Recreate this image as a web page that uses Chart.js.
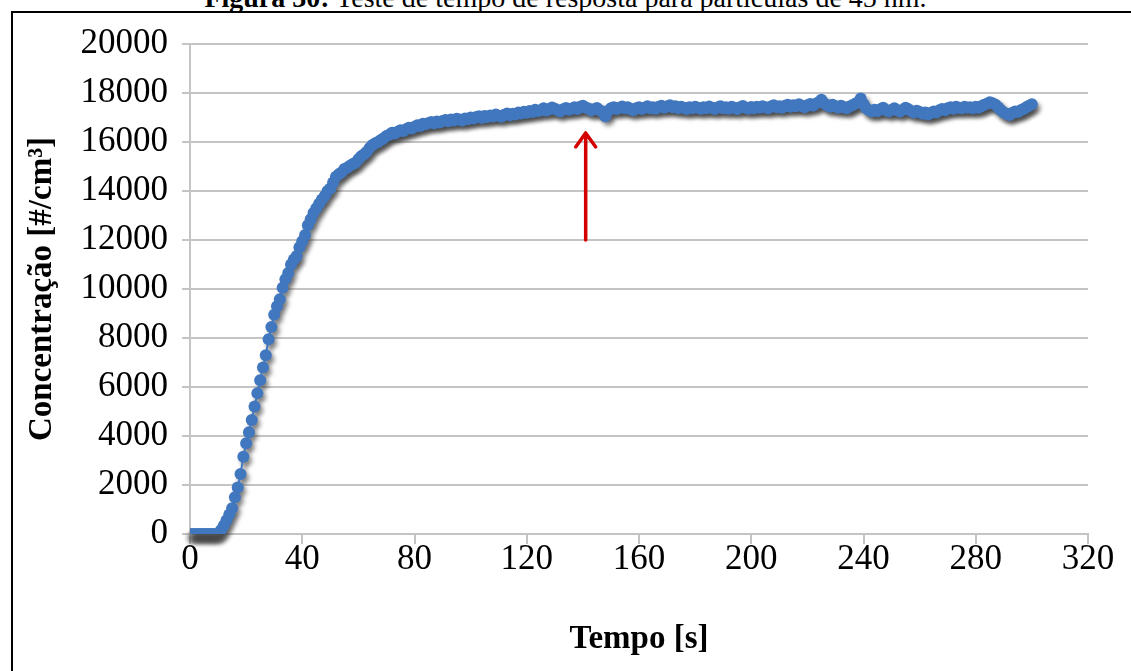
<!DOCTYPE html>
<html>
<head>
<meta charset="utf-8">
<script src="https://cdn.jsdelivr.net/npm/chart.js@4/dist/chart.umd.min.js"></script>
<style>
  html, body { margin: 0; padding: 0; background: #fff; overflow: hidden; }
  #frame { position: absolute; left: 11px; top: 11px; width: 1200px; height: 800px; border: 2px solid #000; }
  #caption { position: absolute; left: 0; top: -16px; width: 1131px; text-align: center;
             font: 28px 'Liberation Serif', serif; line-height: 28px; color: #000; }
  #wrap { position: absolute; left: 0; top: 0; width: 1131px; height: 671px; }
</style>
</head>
<body>
<div id="frame"></div>
<div id="caption"><b>Figura 30:</b> Teste de tempo de resposta para partículas de 45 nm.</div>
<div id="wrap"><canvas id="responseChart" width="1131" height="671"></canvas></div>
<script>
// tempo em segundos: uma leitura por segundo a partir de t = 0
const timeStart = 0;
const timeStep = 1;

// concentração [#/cm³], t = 0 ... 300 s
const concentration = [
  0, 0, 0, 0, 0, 0, 0, 0, 0, 0,
  20, 150, 340, 560, 800, 1050, 1500, 1900, 2450, 3150,
  3700, 4150, 4650, 5200, 5750, 6280, 6800, 7300, 7950, 8450,
  8950, 9300, 9580, 10050, 10400, 10650, 11000, 11200, 11350, 11700,
  11950, 12200, 12600, 12850, 13100, 13300, 13480, 13650, 13800, 14000,
  14100, 14350, 14580, 14680, 14760, 14900, 14950, 15030, 15100, 15150,
  15300, 15420, 15500, 15600, 15760, 15880, 15950, 16000, 16080, 16150,
  16250, 16300, 16380, 16350, 16420, 16480, 16450, 16520, 16580, 16550,
  16620, 16680, 16650, 16750, 16720, 16780, 16820, 16760, 16840, 16800,
  16860, 16900, 16850, 16920, 16880, 16950, 16920, 16880, 16960, 16930,
  17000, 16960, 17020, 17050, 16980, 17060, 17020, 17080, 17040, 17120,
  17070, 17030, 17110, 17160, 17090, 17150, 17120, 17200, 17160, 17230,
  17190, 17270, 17220, 17320, 17260, 17300, 17380, 17290, 17340, 17410,
  17360, 17300, 17250, 17340, 17390, 17320, 17360, 17420, 17350, 17440,
  17480, 17400, 17370, 17300, 17340, 17390, 17300, 17240, 17050, 17270,
  17380, 17420, 17350, 17400, 17450, 17380, 17420, 17350, 17300, 17380,
  17420, 17350, 17400, 17460, 17380, 17420, 17360, 17440, 17480, 17400,
  17450, 17500, 17420, 17460, 17380, 17440, 17400, 17350, 17420, 17380,
  17440, 17400, 17360, 17420, 17380, 17450, 17400, 17350, 17410, 17460,
  17380, 17420, 17360, 17440, 17400, 17350, 17420, 17470, 17400, 17360,
  17430, 17380, 17440, 17400, 17460, 17420, 17380, 17450, 17500, 17420,
  17460, 17400, 17480, 17520, 17440, 17500, 17460, 17540, 17480, 17420,
  17500, 17550, 17480, 17560, 17620, 17720, 17580, 17500, 17440, 17520,
  17460, 17400, 17480, 17420, 17380, 17450, 17500, 17560, 17620, 17780,
  17550, 17380, 17300, 17250, 17320, 17260, 17340, 17400, 17300, 17250,
  17320, 17380, 17300, 17240, 17320, 17400, 17340, 17260, 17200, 17280,
  17220, 17150, 17200, 17120, 17180, 17250, 17200, 17300, 17350, 17300,
  17380, 17420, 17360, 17440, 17400, 17380, 17440, 17400, 17420, 17380,
  17440, 17400, 17460, 17520, 17560, 17620, 17580, 17520, 17420, 17300,
  17200, 17150, 17100, 17180, 17250, 17220, 17300, 17350, 17420, 17480,
  17540
];

// eixos
const xMin = 0, xMax = 320, xStep = 40;
const yMin = 0, yMax = 20000, yStep = 2000;
const xTitle = 'Tempo [s]';
const yTitle = 'Concentração [#/cm³]';

// seta vermelha (instante e faixa de concentração)
const arrowTime = 141;
const arrowFrom = 12000;
const arrowTo = 16370;

const points = concentration.map((v, i) => ({ x: timeStart + i * timeStep, y: v }));

const blue = '#4177be';
const gridGray = '#c4c4c4';
const serif = "'Liberation Serif', 'Times New Roman', serif";
const markerRadius = 6;

// sombra cinza por baixo dos marcadores
const shadowPlugin = {
  id: 'markerShadow',
  beforeDatasetsDraw(chart) {
    const ctx = chart.ctx;
    const pts = chart.getDatasetMeta(0).data;
    ctx.save();
    ctx.filter = 'blur(2px)';
    ctx.fillStyle = 'rgba(60,60,60,0.5)';
    ctx.strokeStyle = 'rgba(60,60,60,0.5)';
    ctx.lineWidth = 3;
    ctx.translate(3, 4);
    ctx.beginPath();
    pts.forEach((p, i) => i ? ctx.lineTo(p.x, p.y) : ctx.moveTo(p.x, p.y));
    ctx.stroke();
    pts.forEach(p => {
      ctx.beginPath();
      ctx.arc(p.x, p.y, markerRadius, 0, Math.PI * 2);
      ctx.fill();
    });
    ctx.restore();
  }
};

const arrowPlugin = {
  id: 'redArrow',
  afterDatasetsDraw(chart) {
    const { ctx, scales } = chart;
    const x = scales.x.getPixelForValue(arrowTime);
    const y1 = scales.y.getPixelForValue(arrowFrom);
    const y2 = scales.y.getPixelForValue(arrowTo);
    ctx.save();
    ctx.strokeStyle = '#d40000';
    ctx.lineWidth = 3.5;
    ctx.lineCap = 'round';
    ctx.lineJoin = 'round';
    ctx.beginPath();
    ctx.moveTo(x, y1);
    ctx.lineTo(x, y2);
    ctx.moveTo(x - 10, y2 + 14);
    ctx.lineTo(x, y2);
    ctx.lineTo(x + 10, y2 + 14);
    ctx.stroke();
    ctx.restore();
  }
};

const ctx = document.getElementById('responseChart').getContext('2d');
const responseChart = new Chart(ctx, {
  type: 'line',
  data: {
    datasets: [{
      label: 'Concentração',
      data: points,
      borderColor: blue,
      backgroundColor: blue,
      borderWidth: 2,
      pointRadius: markerRadius,
      pointBorderWidth: 0,
      pointBackgroundColor: blue,
      fill: false,
      tension: 0
    }]
  },
  options: {
    responsive: false,
    animation: false,
    layout: { padding: { top: 44, right: 43, left: 0, bottom: 0 } },
    plugins: {
      legend: { display: false },
      tooltip: { enabled: false }
    },
    scales: {
      x: {
        type: 'linear',
        min: xMin,
        max: xMax,
        ticks: {
          stepSize: xStep,
          color: '#000',
          padding: -5,
          font: { family: serif, size: 35 },
          callback: v => String(v)
        },
        grid: {
          drawOnChartArea: false,
          drawTicks: true,
          tickLength: 10,
          color: gridGray,
          lineWidth: 2
        },
        border: { color: gridGray, width: 2 },
        title: {
          display: true,
          text: xTitle,
          color: '#000',
          padding: { top: 12, bottom: 12 },
          font: { family: serif, size: 33, weight: 'bold' }
        },
        afterFit(scale) { scale.height = 137; }
      },
      y: {
        min: yMin,
        max: yMax,
        ticks: {
          stepSize: yStep,
          color: '#000',
          padding: 14,
          font: { family: serif, size: 35 },
          callback: v => String(v)
        },
        grid: {
          color: gridGray,
          lineWidth: 2,
          drawTicks: true,
          tickLength: 8
        },
        border: { color: gridGray, width: 2 },
        title: {
          display: true,
          text: yTitle,
          color: '#000',
          padding: { top: 23, bottom: 0 },
          font: { family: serif, size: 33, weight: 'bold' }
        },
        afterFit(scale) { scale.width = 190; }
      }
    }
  },
  plugins: [shadowPlugin, arrowPlugin]
});
</script>
</body>
</html>
